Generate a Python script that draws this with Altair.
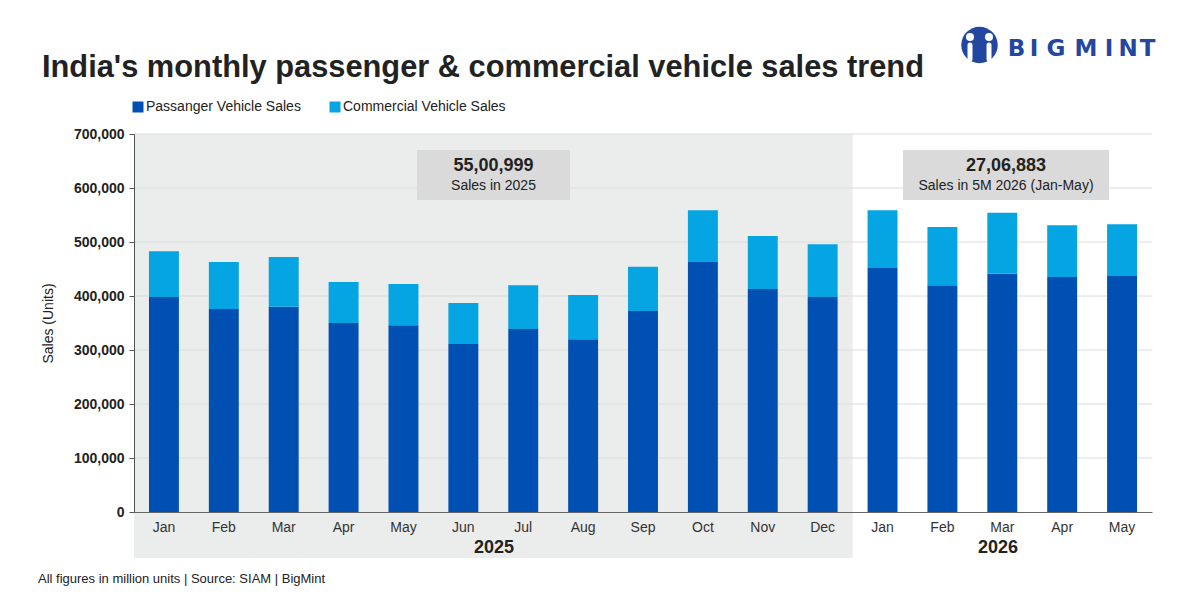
import altair as alt
import pandas as pd

# ---- data ----
months = ["Jan", "Feb", "Mar", "Apr", "May", "Jun", "Jul", "Aug", "Sep", "Oct", "Nov", "Dec",
          "Jan", "Feb", "Mar", "Apr", "May"]
years = ["2025"] * 12 + ["2026"] * 5
pv_sales = [398000, 376000, 380000, 350000, 346000, 311000, 339000, 320000, 372000,
            463000, 413000, 398000, 452000, 420000, 441000, 435000, 437000]
cv_sales = [85000, 87000, 92000, 76000, 76000, 76000, 81000, 82000, 82000,
            96000, 98000, 98000, 107000, 108000, 113000, 96000, 96000]
series = ["Passanger Vehicle Sales", "Commercial Vehicle Sales"]
series_colors = ["#0050b4", "#05a5e3"]
y_ticks = [0, 100000, 200000, 300000, 400000, 500000, 600000, 700000]
year_labels = ["2025", "2026"]
year_totals = ["55,00,999", "27,06,883"]
year_notes = ["Sales in 2025", "Sales in 5M 2026 (Jan-May)"]
title_text = "India's monthly passenger & commercial vehicle sales trend"
footer_text = "All figures in million units | Source: SIAM | BigMint"
logo_text = "BIGMINT"

FONT = "Liberation Sans"
W, H = 1018, 378

keys = [f"{m} {y}" for m, y in zip(months, years)]
rows = []
for k, p, c in zip(keys, pv_sales, cv_sales):
    rows.append({"key": k, "series": series[0], "value": p, "ord": 0})
    rows.append({"key": k, "series": series[1], "value": c, "ord": 1})
df = pd.DataFrame(rows)
grid_df = pd.DataFrame({"v": y_ticks[1:]})
one = pd.DataFrame({"a": [0]})

x_enc = alt.X("key:N", sort=keys, title=None,
              scale=alt.Scale(paddingInner=0.5, paddingOuter=0.25),
              axis=alt.Axis(labelExpr="split(datum.label, ' ')[0]", labelAngle=0,
                            labelFontSize=14, labelColor="#333333", labelFont=FONT,
                            labelPadding=8, ticks=False, domainColor="#666666",
                            domainWidth=1.2, zindex=1))
y_scale = alt.Scale(domain=[0, 700000], nice=False)
y_axis = alt.Axis(values=y_ticks, grid=False,
                  labelExpr="datum.value == 0 ? '0' : format(datum.value / 1000, 'd') + ',000'",
                  labelFontSize=14, labelFontWeight="bold", labelColor="#222222",
                  labelFont=FONT, labelPadding=5, tickSize=5,
                  tickColor="#555555", domainColor="#555555",
                  titleFontSize=14, titleFontWeight="normal", titleColor="#222222",
                  titleFont=FONT, titleX=-86, titleY=H / 2,
                  titleBaseline="middle", zindex=1)
Y_TITLE = "Sales (Units)"

background = alt.Chart(one).mark_rect(color="#ebecec").encode(
    x=alt.value(0), x2=alt.value(W * 12 / 17), y=alt.value(0), y2=alt.value(424))

grid = alt.Chart(grid_df).mark_rule(color="#dcdcdc", strokeWidth=1).encode(
    y=alt.Y("v:Q", scale=y_scale, axis=y_axis, title=Y_TITLE))

bars = alt.Chart(df).mark_bar().encode(
    x=x_enc,
    y=alt.Y("value:Q", stack="zero", scale=y_scale, axis=y_axis, title=Y_TITLE),
    color=alt.Color("series:N", scale=alt.Scale(domain=series, range=series_colors),
                    sort=series,
                    legend=alt.Legend(title=None, orient="none", legendX=-3, legendY=-34,
                                      direction="horizontal", symbolType="square",
                                      symbolSize=121, symbolStrokeWidth=0,
                                      labelFontSize=14, labelColor="#222222",
                                      labelFont=FONT, labelLimit=400,
                                      columnPadding=27, labelOffset=1)),
    order=alt.Order("ord:Q", sort="ascending"),
)

def txt(text, x, y, size, weight="normal", align="center", color="#222222", font=FONT):
    return alt.Chart(one).mark_text(text=text, fontSize=size, fontWeight=weight,
                                    align=align, baseline="middle", color=color,
                                    font=font).encode(
        x=alt.value(x), y=alt.value(y))

boxes = [
    alt.Chart(one).mark_rect(color="#d9dad9").encode(
        x=alt.value(283), x2=alt.value(436), y=alt.value(16), y2=alt.value(66)),
    alt.Chart(one).mark_rect(color="#d9dad9").encode(
        x=alt.value(769), x2=alt.value(975), y=alt.value(16), y2=alt.value(66)),
]
texts = [
    txt(year_totals[0], 359.5, 31.5, 18, "bold"),
    txt(year_notes[0], 359.5, 51.5, 14),
    txt(year_totals[1], 872, 31.5, 18, "bold"),
    txt(year_notes[1], 872, 51.5, 14),
    txt(year_labels[0], 360, 414, 18, "bold"),
    txt(year_labels[1], 864, 414, 18, "bold"),
    txt(title_text, -92, -66, 30.8, "bold", align="left"),
    txt(footer_text, -96, 445, 13, align="left"),
]

# logo word, letter by letter (spaced)
letter_x = [882.5, 900, 922, 952, 975, 994, 1013.5]
for ch, lx in zip(logo_text, letter_x):
    texts.append(txt(ch, lx, -85, 23, "bold", color="#2346a0", font="DejaVu Sans"))

logo = [
    alt.Chart(one).mark_point(filled=True, shape="circle", size=1330, color="#2346a0",
                              opacity=1).encode(x=alt.value(845.5), y=alt.value(-89)),
    alt.Chart(one).mark_rule(color="white", strokeWidth=5, strokeCap="round").encode(
        x=alt.value(836), y=alt.value(-89), y2=alt.value(-75)),
    alt.Chart(one).mark_rule(color="white", strokeWidth=5, strokeCap="round").encode(
        x=alt.value(855), y=alt.value(-89), y2=alt.value(-75)),
    alt.Chart(one).mark_point(filled=True, shape="circle", size=64, color="white",
                              opacity=1).encode(x=alt.value(836), y=alt.value(-97)),
    alt.Chart(one).mark_point(filled=True, shape="circle", size=64, color="white",
                              opacity=1).encode(x=alt.value(855), y=alt.value(-97)),
]

chart = alt.layer(background, grid, bars, *boxes, *texts, *logo).properties(
    width=W, height=H,
    autosize=alt.AutoSizeParams(type="none"),
    padding={"left": 126, "top": 126, "right": 40, "bottom": 80},
    background="white",
).configure_view(stroke=None)

chart.save("out.html", embed_options={"renderer": "svg", "actions": False})
